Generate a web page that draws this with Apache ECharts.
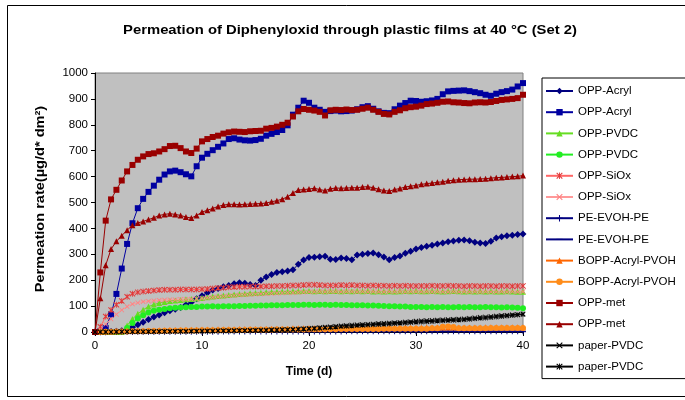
<!DOCTYPE html>
<html>
<head>
<meta charset="utf-8">
<script src="https://cdn.jsdelivr.net/npm/echarts@6/dist/echarts.min.js"></script>
<style>
  html, body { margin: 0; padding: 0; background: #fff; }
  #chart { width: 685px; height: 400px; }
</style>
</head>
<body>
<div id="chart"></div>
<script>
// Measurement times (days)
const days = [
  0, 0.5, 1, 1.5, 2, 2.5, 3, 3.5, 4, 4.5,
  5, 5.5, 6, 6.5, 7, 7.5, 8, 8.5, 9, 9.5,
  10, 10.5, 11, 11.5, 12, 12.5, 13, 13.5, 14, 14.5,
  15, 15.5, 16, 16.5, 17, 17.5, 18, 18.5, 19, 19.5,
  20, 20.5, 21, 21.5, 22, 22.5, 23, 23.5, 24, 24.5,
  25, 25.5, 26, 26.5, 27, 27.5, 28, 28.5, 29, 29.5,
  30, 30.5, 31, 31.5, 32, 32.5, 33, 33.5, 34, 34.5,
  35, 35.5, 36, 36.5, 37, 37.5, 38, 38.5, 39, 39.5,
  40
];

// Permeation rate (µg/d*dm²) per film
const oppAcrylA = [
  0, 0, 0, 2, 3, 5, 10, 18, 28, 38,
  48, 58, 66, 74, 82, 88, 95, 105, 115, 128,
  140, 152, 162, 168, 175, 180, 186, 190, 188, 183,
  180, 200, 212, 222, 230, 233, 236, 240, 262, 278,
  288, 289, 291, 292, 281, 280, 286, 284, 279, 297,
  300, 303, 305, 298, 290, 279, 288, 293, 304, 312,
  320, 326, 331, 335, 340, 344, 348, 351, 354, 355,
  352, 347, 344, 342, 350, 363, 368, 372, 374, 376,
  378
];
const oppAcrylB = [
  0, 3, 15, 68, 147, 245, 340, 420, 478, 514,
  541, 565, 588, 608, 620, 623, 617, 609, 601, 640,
  673, 688, 702, 715, 728, 745, 748, 743, 740, 739,
  741, 746, 758, 765, 772, 780, 798, 839, 866, 893,
  885, 866, 858, 850, 853, 855, 852, 853, 855, 860,
  868, 872, 862, 852, 846, 845, 860, 874, 884, 893,
  892, 889, 891, 894, 900, 918, 929, 931, 932, 933,
  930, 926, 922, 916, 912, 920, 926, 930, 936, 948,
  961
];
const oppPvdcA = [
  0, 0, 0, 0, 0, 0, 25, 50, 70, 86,
  98, 106, 112, 116, 120, 122, 124, 126, 127, 129,
  131, 134, 137, 139, 141, 143, 145, 147, 148, 150,
  151, 152, 153, 154, 155, 156, 156, 157, 157, 158,
  158, 157, 158, 157, 158, 158, 157, 158, 157, 158,
  157, 158, 156, 157, 156, 157, 156, 157, 158, 157,
  158, 157, 157, 158, 157, 156, 157, 158, 157, 156,
  157, 156, 157, 156, 157, 156, 156, 157, 156, 155,
  155
];
const oppPvdcB = [
  0, 0, 0, 0, 0, 0, 15, 35, 52, 65,
  75, 82, 86, 89, 92, 94, 95, 96, 97, 97,
  98, 98, 99, 98, 99, 99, 99, 100, 100, 101,
  101, 102, 102, 103, 103, 103, 104, 104, 104, 105,
  105, 104, 105, 105, 104, 105, 104, 104, 103, 103,
  103, 102, 102, 101, 100, 99, 99, 98, 98, 97,
  97, 97, 96, 97, 96, 97, 96, 96, 97, 96,
  97, 96, 96, 97, 96, 96, 95, 96, 95, 94,
  92
];
const oppSioxA = [
  0, 20, 60, 85, 105, 120, 136, 148, 153, 156,
  158, 160, 162, 163, 163, 163, 164, 164, 164, 164,
  165, 166, 168, 170, 171, 173, 174, 175, 175, 176,
  176, 176, 177, 177, 178, 178, 179, 180, 180, 181,
  182, 182, 181, 180, 180, 180, 181, 180, 181, 180,
  180, 179, 180, 179, 179, 178, 179, 178, 179, 178,
  178, 178, 178, 179, 178, 178, 179, 178, 178, 177,
  178, 178, 177, 178, 178, 177, 178, 178, 177, 178,
  178
];
const oppSioxB = [
  0, 10, 30, 50, 68, 85, 98, 108, 113, 117,
  119, 121, 123, 124, 125, 125, 126, 126, 127, 128,
  130, 132, 134, 136, 138, 140, 141, 143, 144, 145,
  146, 147, 148, 149, 150, 151, 152, 152, 153, 154,
  155, 155, 156, 155, 156, 156, 155, 156, 156, 155,
  156, 155, 156, 155, 155, 156, 155, 156, 155, 156,
  156, 155, 156, 155, 156, 155, 155, 156, 155, 156,
  155, 156, 155, 156, 155, 155, 156, 155, 156, 155,
  156
];
const peEvohA = [
  0, 0, 0, 0, 0, 0, 0, 0, 1, 1,
  1, 1, 1, 1, 1, 1, 1, 1, 1, 1,
  1, 1, 1, 1, 2, 2, 2, 2, 2, 2,
  2, 2, 2, 2, 2, 2, 2, 2, 2, 2,
  2, 2, 2, 2, 2, 2, 2, 3, 3, 3,
  3, 3, 3, 3, 3, 3, 3, 3, 3, 3,
  3, 3, 3, 3, 3, 3, 3, 3, 3, 3,
  3, 3, 3, 3, 3, 3, 3, 3, 3, 3,
  3
];
const peEvohB = [
  0, 0, 0, 0, 0, 0, 0, 0, 0, 0,
  0, 0, 0, 0, 0, 0, 1, 1, 1, 1,
  1, 1, 1, 1, 1, 1, 1, 1, 1, 1,
  1, 1, 1, 1, 1, 1, 1, 1, 1, 1,
  1, 1, 1, 1, 1, 1, 1, 1, 1, 1,
  1, 1, 1, 1, 1, 1, 1, 1, 1, 1,
  1, 1, 1, 1, 1, 1, 1, 1, 1, 1,
  1, 1, 1, 1, 1, 1, 1, 1, 1, 1,
  1
];
const boppA = [
  0, 1, 2, 2, 3, 3, 4, 4, 5, 5,
  6, 6, 7, 7, 8, 8, 8, 9, 9, 9,
  10, 10, 10, 11, 11, 11, 11, 12, 12, 12,
  12, 12, 13, 13, 13, 13, 13, 14, 14, 14,
  14, 14, 14, 15, 15, 15, 15, 15, 15, 15,
  15, 16, 16, 16, 16, 16, 16, 16, 16, 16,
  16, 16, 17, 17, 17, 17, 17, 17, 17, 17,
  17, 17, 17, 18, 18, 18, 18, 18, 18, 18,
  18
];
const boppB = [
  0, 0, 1, 1, 2, 2, 2, 3, 3, 3,
  4, 4, 4, 5, 5, 5, 6, 6, 6, 6,
  7, 7, 7, 7, 8, 8, 8, 8, 8, 9,
  9, 9, 9, 9, 10, 10, 10, 10, 10, 10,
  11, 11, 11, 11, 11, 11, 12, 12, 12, 12,
  12, 12, 12, 12, 13, 13, 13, 13, 13, 13,
  13, 13, 13, 14, 14, 20, 21, 19, 14, 14,
  14, 14, 14, 14, 15, 15, 15, 15, 15, 15,
  15
];
const oppMetA = [
  0, 230, 430, 512, 549, 585, 620, 645, 665, 678,
  687, 690, 697, 706, 718, 719, 710, 697, 691, 708,
  736, 745, 753, 758, 766, 771, 774, 773, 772, 775,
  776, 777, 785, 788, 793, 800, 808, 832, 852, 861,
  858, 855, 850, 836, 856, 858, 857, 859, 857, 858,
  862, 866, 858, 850, 842, 840, 850, 856, 864, 868,
  870, 874, 880, 882, 885, 889, 890, 887, 886, 884,
  883, 886, 887, 886, 888, 892, 896, 898, 900, 903,
  916
];
const oppMetB = [
  0, 130, 258, 320, 350, 372, 393, 412, 421, 427,
  434, 441, 450, 454, 457, 454, 450, 444, 440, 450,
  463, 470, 477, 485, 490, 493, 493, 492, 493, 494,
  495, 496, 498, 503, 507, 513, 522, 537, 548, 550,
  552, 555, 550, 546, 553, 556, 555, 556, 557, 557,
  560, 561, 557, 551, 546, 544, 550, 554, 560, 563,
  566, 570, 573, 575, 578, 580, 584, 586, 588, 589,
  590, 590, 591, 592, 594, 596, 597, 598, 600, 601,
  604
];
const paperA = [
  0, 0, 0, 0, 1, 1, 1, 1, 1, 1,
  2, 2, 2, 2, 2, 3, 3, 3, 3, 3,
  4, 4, 4, 5, 5, 5, 6, 6, 6, 7,
  7, 8, 8, 9, 9, 10, 10, 11, 12, 13,
  14, 15, 17, 19, 20, 22, 24, 25, 27, 28,
  29, 30, 31, 33, 34, 35, 36, 37, 39, 40,
  42, 43, 44, 45, 46, 47, 48, 49, 50, 51,
  53, 55, 57, 58, 60, 62, 64, 65, 67, 68,
  70
];
const paperB = [
  0, 0, 0, 0, 0, 1, 1, 1, 1, 1,
  1, 1, 2, 2, 2, 2, 2, 2, 3, 3,
  3, 3, 3, 4, 4, 4, 4, 5, 5, 5,
  6, 6, 6, 7, 7, 8, 8, 9, 10, 11,
  12, 13, 14, 16, 17, 19, 21, 22, 23, 25,
  26, 27, 28, 29, 30, 31, 33, 34, 35, 37,
  38, 39, 40, 41, 42, 43, 44, 45, 46, 47,
  49, 51, 53, 54, 56, 58, 60, 62, 64, 66,
  68
];

// Axis ticks
const xTicks = { min: 0, max: 40, step: 10 };
const yTicks = { min: 0, max: 1000, step: 100 };

// Marker outlines for symbols ECharts does not provide
const SYM_X = 'path://M0,1.2L1.2,0L5,3.8L8.8,0L10,1.2L6.2,5L10,8.8L8.8,10L5,6.2L1.2,10L0,8.8L3.8,5Z';
const SYM_STAR = 'path://M0,1.2L1.2,0L5,3.8L8.8,0L10,1.2L6.2,5L10,8.8L8.8,10L5,6.2L1.2,10L0,8.8L3.8,5Z M4.3,0H5.7V10H4.3Z';
const SYM_PLUS = 'path://M4.2,0H5.8V4.2H10V5.8H5.8V10H4.2V5.8H0V4.2H4.2Z';
const SYM_DASH = 'path://M0,0M0,4.2H10V5.8H0Z M10,10';

const FONT = '"Liberation Sans", Arial, sans-serif';

function makeSeries(key, values, color, symbol, size, lineColor) {
  return {
    type: 'line',
    name: key,
    data: days.map((d, i) => [d, values[i]]),
    symbol: symbol,
    symbolSize: size,
    showSymbol: true,
    showAllSymbol: true,
    lineStyle: { color: lineColor || color, width: 1 },
    itemStyle: { color: color },
    emphasis: { disabled: true },
    animation: false
  };
}

const series = [
  makeSeries('OPP-Acryl|1', oppAcrylA, '#000080', 'diamond', 7),
  makeSeries('OPP-Acryl|2', oppAcrylB, '#0000A0', 'rect', 6),
  makeSeries('OPP-PVDC|1', oppPvdcA, '#66DD22', 'triangle', 6),
  makeSeries('OPP-PVDC|2', oppPvdcB, '#22EE22', 'circle', 6),
  makeSeries('OPP-SiOx|1', oppSioxA, '#E03A3A', SYM_STAR, 6, '#FF6666'),
  makeSeries('OPP-SiOx|2', oppSioxB, '#FF8080', SYM_X, 5, '#FF9999'),
  makeSeries('PE-EVOH-PE|1', peEvohA, '#000080', SYM_PLUS, 6),
  makeSeries('PE-EVOH-PE|2', peEvohB, '#000080', SYM_DASH, 6),
  makeSeries('BOPP-Acryl-PVOH|1', boppA, '#FF6600', 'triangle', 6),
  makeSeries('BOPP-Acryl-PVOH|2', boppB, '#FF8C1A', 'circle', 6),
  makeSeries('OPP-met|1', oppMetA, '#990000', 'rect', 6),
  makeSeries('OPP-met|2', oppMetB, '#990000', 'triangle', 6),
  makeSeries('paper-PVDC|1', paperA, '#000000', SYM_X, 5),
  makeSeries('paper-PVDC|2', paperB, '#000000', SYM_STAR, 5)
];

const chart = echarts.init(document.getElementById('chart'));
chart.setOption({
  backgroundColor: '#ffffff',
  animation: false,
  graphic: [
    {
      type: 'rect', silent: true, z: 0,
      shape: { x: 7.5, y: 5.5, width: 700, height: 391 },
      style: { fill: 'none', stroke: '#000', lineWidth: 1 }
    },
    {
      // title text, slightly widened
      type: 'text', silent: true,
      x: 350, y: 30, scaleX: 1.14, scaleY: 1,
      style: {
        text: 'Permeation of Diphenyloxid through plastic films at 40 °C (Set 2)',
        font: 'bold 13px ' + FONT,
        fill: '#000',
        align: 'center', verticalAlign: 'middle',
        textAlign: 'center', textVerticalAlign: 'middle'
      }
    },
    {
      // value axis title, vertical
      type: 'text', silent: true,
      x: 40, y: 199, rotation: Math.PI / 2, scaleX: 1.12, scaleY: 1,
      style: {
        text: 'Permeation rate(µg/d* dm²)',
        font: 'bold 13px ' + FONT,
        fill: '#000',
        align: 'center', verticalAlign: 'middle',
        textAlign: 'center', textVerticalAlign: 'middle'
      }
    }
  ],
  grid: {
    left: 95, top: 73, width: 428, height: 259,
    show: true, backgroundColor: '#C0C0C0',
    borderColor: '#808080', borderWidth: 1
  },
  xAxis: {
    type: 'value',
    min: xTicks.min, max: xTicks.max, interval: xTicks.step,
    name: 'Time (d)',
    nameLocation: 'middle', nameGap: 34,
    nameTextStyle: { fontFamily: FONT, fontWeight: 'bold', fontSize: 12, color: '#000' },
    axisLine: { onZero: false, lineStyle: { color: '#000', width: 1 } },
    axisTick: { show: true, length: 4, lineStyle: { color: '#000' } },
    axisLabel: { fontFamily: FONT, fontSize: 11.5, color: '#000', margin: 8 },
    splitLine: { show: false }
  },
  yAxis: {
    type: 'value',
    min: yTicks.min, max: yTicks.max, interval: yTicks.step,
    axisLine: { show: true, lineStyle: { color: '#000', width: 1 } },
    axisTick: { show: true, length: 4, lineStyle: { color: '#000' } },
    axisLabel: { fontFamily: FONT, fontSize: 11.5, color: '#000', margin: 7, formatter: v => String(v) },
    splitLine: { show: false }
  },
  legend: {
    orient: 'vertical',
    left: 542, top: 78,
    padding: [6, 40, 5, 3],
    itemWidth: 27, itemHeight: 8, itemGap: 7.2,
    backgroundColor: '#fff',
    borderColor: '#000', borderWidth: 1,
    selectedMode: false,
    textStyle: { fontFamily: FONT, fontSize: 11.5, color: '#000', lineHeight: 14 },
    formatter: name => name.split('|')[0],
    data: series.map(s => s.name)
  },
  series: series
});
</script>
</body>
</html>
